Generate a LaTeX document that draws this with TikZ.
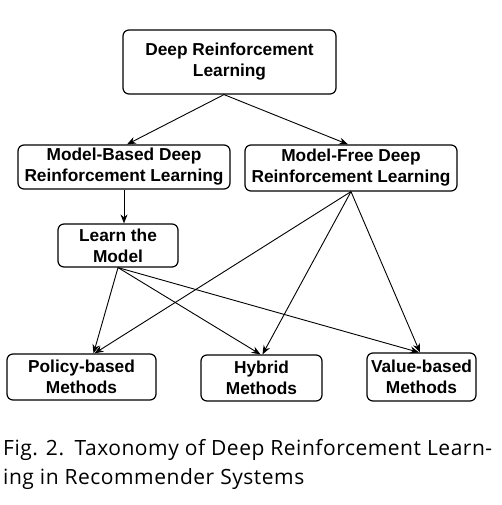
\documentclass[tikz,border=0pt]{standalone}
\usepackage{fontspec}
\newfontfamily\boxfont{Liberation Sans}
\newfontfamily\capfont[LetterSpace=2.5]{Open Sans}
\usetikzlibrary{arrows.meta}
\begin{document}
\begin{tikzpicture}[x=1pt,y=-1pt,
  box/.style={draw, rounded corners=6pt, line width=1.2pt, inner sep=0pt, align=center,
    font=\boxfont\bfseries\fontsize{17.3}{21}\selectfont},
  arr/.style={line width=0.9pt, -{Stealth[length=9pt,width=7pt]}},
  captext/.style={anchor=base west, inner sep=0pt, font=\capfont\fontsize{21}{28}\selectfont}]
\useasboundingbox (0,0) rectangle (502,505);
\node[box, minimum width=213pt, minimum height=64pt] (drl) at (229.5,62) {Deep Reinforcement\\Learning};
\node[box, minimum width=212pt, minimum height=44pt] (mb) at (124,167) {Model-Based Deep\\Reinforcement Learning};
\node[box, minimum width=212pt, minimum height=46pt] (mf) at (351,168) {Model-Free Deep\\Reinforcement Learning};
\node[box, minimum width=120pt, minimum height=43pt] (lm) at (118,245.5) {Learn the\\Model};
\node[box, minimum width=149pt, minimum height=46pt] (pol) at (81.5,377) {Policy-based\\Methods};
\node[box, minimum width=121pt, minimum height=46pt] (hyb) at (261.5,378) {Hybrid\\Methods};
\node[box, minimum width=109pt, minimum height=48pt] (val) at (421.5,377) {Value-based\\Methods};
\coordinate (drlout) at ([xshift=-5.5pt]drl.south);
\draw[arr] (drlout) -- ([xshift=3pt]mb.north);
\draw[arr] (drlout) -- ([xshift=-3pt]mf.north);
\draw[arr] (mb.south) -- (mb.south |- lm.north);
\draw[arr] (lm.south) -- ([xshift=12pt]pol.north);
\draw[arr] (lm.south) -- ([xshift=-1pt]hyb.north);
\draw[arr] (lm.south) -- ([xshift=-2.5pt]val.north);
\draw[arr] (mf.south) -- ([xshift=13pt]pol.north);
\draw[arr] (mf.south) -- ([xshift=1pt]hyb.north);
\draw[arr] (mf.south) -- ([xshift=-1.5pt]val.north);
\node[captext] (cap1) at (3,455.7) {Fig. 2.\enspace Taxonomy of Deep Reinforcement Learn-};
\node[captext] (cap2) at (3,484) {ing in Recommender Systems};
\end{tikzpicture}
\end{document}
